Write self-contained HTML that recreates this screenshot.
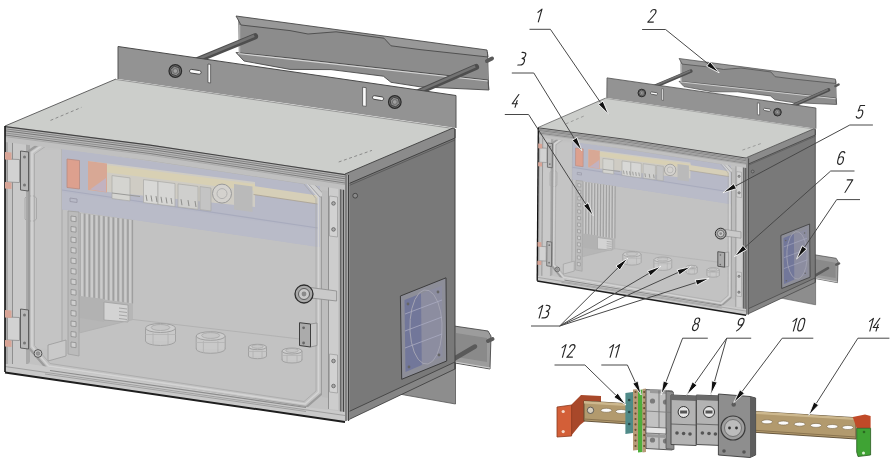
<!DOCTYPE html>
<html><head><meta charset="utf-8">
<style>
html,body{margin:0;padding:0;background:#fff;}
body{width:896px;height:461px;overflow:hidden;}
svg{display:block;filter:blur(0.3px);}
</style></head><body>
<svg width="896" height="461" viewBox="0 0 896 461">
<g id="bigbox">
<polygon points="238,18 487,51 488,86 239,54" fill="#8c8c8c"/>
<polygon points="236,16 487,50 488,57 420,49.6 391,45.8 384,38.2 336,31.8 308,34 290,30.6 241,25" fill="#989898" stroke="#4a4a4a" stroke-width="0.9"/>
<polygon points="236,52.5 290,58 420,72.4 488,80 489,90 420,86.8 391,82.3 383.4,76.2 331,69.6 290,69.4 244,61" fill="#8e8e8e" stroke="#4a4a4a" stroke-width="0.9"/>
<line x1="238" y1="53.5" x2="488" y2="81" stroke="#d6d6d6" stroke-width="1.1"/>
<line x1="239.5" y1="25" x2="239.5" y2="54" stroke="#b0b0b0" stroke-width="1.6"/>
<line x1="487.5" y1="52" x2="488.5" y2="89" stroke="#555" stroke-width="1"/>
<line x1="195" y1="61" x2="255" y2="36.3" stroke="#4e4e4e" stroke-width="6.2" stroke-linecap="round"/>
<line x1="195" y1="60.4" x2="254.2" y2="35.7" stroke="#737373" stroke-width="2.6"/>
<line x1="414" y1="94" x2="476" y2="67" stroke="#4e4e4e" stroke-width="6.2" stroke-linecap="round"/>
<line x1="414" y1="93.4" x2="475.2" y2="66.4" stroke="#737373" stroke-width="2.6"/>
<line x1="487" y1="61" x2="492" y2="58.5" stroke="#5a5a5a" stroke-width="4" stroke-linecap="round"/>
<polygon points="118,46.5 456,95.5 456,128 118,79" fill="#939393"/>
<line x1="118" y1="46.5" x2="456" y2="95.5" stroke="#4a4a4a" stroke-width="1"/>
<line x1="118" y1="46.5" x2="118" y2="79" stroke="#555" stroke-width="1"/>
<line x1="456" y1="95.5" x2="456" y2="128" stroke="#555" stroke-width="1"/>
<circle cx="175.3" cy="71" r="6.3" fill="#6e6e6e" stroke="#2a2a2a" stroke-width="1.2"/>
<polygon points="180,72.5 176.4,75.8 171.7,74.3 170.6,69.5 174.2,66.2 178.9,67.7" fill="#8c8c8c" stroke="#333" stroke-width="0.8"/>
<circle cx="175.3" cy="71" r="2.4" fill="#9e9e9e" stroke="#555" stroke-width="0.6"/>
<circle cx="394.8" cy="102" r="6.3" fill="#6e6e6e" stroke="#2a2a2a" stroke-width="1.2"/>
<polygon points="399.5,103.5 395.9,106.8 391.2,105.3 390.1,100.5 393.7,97.2 398.4,98.7" fill="#8c8c8c" stroke="#333" stroke-width="0.8"/>
<circle cx="394.8" cy="102" r="2.4" fill="#9e9e9e" stroke="#555" stroke-width="0.6"/>
<polygon points="199.6,70.6 200.2,70.9 200.7,71.3 201,72 201.1,72.7 200.8,73.3 200.4,73.8 199.7,74.1 199,74.2 191,73 190.4,72.7 189.9,72.3 189.6,71.6 189.5,70.9 189.8,70.3 190.2,69.8 190.9,69.5 191.6,69.4" fill="#fafafa" stroke="#3a3a3a" stroke-width="0.9"/>
<polygon points="382.1,96.9 382.7,97.2 383.3,97.6 383.6,98.3 383.6,99 383.3,99.6 382.9,100.2 382.2,100.5 381.5,100.5 374,99.3 373.4,99 372.8,98.6 372.5,97.9 372.5,97.2 372.8,96.6 373.2,96 373.9,95.7 374.6,95.7" fill="#fafafa" stroke="#3a3a3a" stroke-width="0.9"/>
<polygon points="208,64 210.6,64.4 210.6,83 208,82.6" fill="#fafafa" stroke="#444" stroke-width="0.7"/>
<polygon points="362.6,87.2 366.2,87.7 366.2,106.4 362.6,105.9" fill="#fafafa" stroke="#444" stroke-width="0.7"/>
<polygon points="380,390 455.5,360 455.5,404 404.6,395" fill="#8d8d8d" stroke="#555" stroke-width="0.8"/>
<polygon points="454,326 488,331 491,336 490,369 455,363" fill="#9c9c9c" stroke="#4a4a4a" stroke-width="0.9"/>
<polygon points="456,333 487,338 487,362 456,357" fill="#8a8a8a"/>
<line x1="455" y1="362" x2="490" y2="368" stroke="#d0d0d0" stroke-width="1"/>
<line x1="452" y1="360" x2="475" y2="346.5" stroke="#5a5a5a" stroke-width="4.5" stroke-linecap="round"/>
<line x1="488" y1="341" x2="492.5" y2="339" stroke="#5a5a5a" stroke-width="4" stroke-linecap="round"/>
<polygon points="116,79 453,128 345,174 150,144.5 5,126" fill="#cccecb"/>
<line x1="116" y1="79.5" x2="453" y2="128.5" stroke="#8a8a8a" stroke-width="0.8"/>
<line x1="50.5" y1="120.4" x2="81.4" y2="107.4" stroke="#7a7a7a" stroke-width="0.8" stroke-dasharray="3,2.5"/>
<line x1="338.7" y1="162" x2="371.9" y2="150.4" stroke="#7a7a7a" stroke-width="0.8" stroke-dasharray="3,2.5"/>
<line x1="5" y1="126" x2="116" y2="79" stroke="#555" stroke-width="0.9"/>
<polygon points="345,176 455,130 455,369 345,421" fill="#797979"/>
<polygon points="345,174 453,128 455,129 455,138 348,184" fill="#8b8b8b" stroke="#3a3a3a" stroke-width="0.9"/>
<line x1="348" y1="186" x2="455" y2="140" stroke="#555" stroke-width="0.8"/>
<polygon points="348,412 455,362 455,369 348,420" fill="#858585" stroke="#3a3a3a" stroke-width="0.8"/>
<line x1="455" y1="129" x2="455" y2="369" stroke="#444" stroke-width="1"/>
<circle cx="355.2" cy="195.7" r="2.4" fill="#8a8a8a" stroke="#3a3a3a" stroke-width="0.8"/>
<polygon points="400.4,296 446,277.8 446.7,361 401.7,379.3" fill="#8d8e98" stroke="#3c3c3c" stroke-width="1"/>
<polygon points="404.5,300 442,285.5 442.5,356.5 405.5,372" fill="#8c8da0"/>
<polygon points="404.5,300 421,293.6 421.8,365 405.5,372" fill="#72779a"/>
<polygon points="442,323 441.8,334.6 440.1,345.5 437,354.6 432.8,361 428,364 423,363.4 418.2,359.3 414.2,352 411.4,342.2 410,331 410.2,319.4 411.9,308.5 415,299.4 419.2,293 424,290 429,290.6 433.8,294.7 437.8,302 440.6,311.8" fill="none" stroke="#a4a4b2" stroke-width="1"/>
<line x1="405" y1="314" x2="442" y2="300" stroke="#a9abc2" stroke-width="0.8"/>
<line x1="405" y1="331" x2="442" y2="317" stroke="#a9abc2" stroke-width="0.8"/>
<line x1="405" y1="348" x2="442" y2="334" stroke="#a9abc2" stroke-width="0.8"/>
<circle cx="408" cy="304" r="1.4" fill="#666"/>
<circle cx="438" cy="292" r="1.4" fill="#666"/>
<circle cx="409" cy="367" r="1.4" fill="#666"/>
<circle cx="439" cy="355" r="1.4" fill="#666"/>
<polygon points="5,126 150,144.5 345,174 345,422 5,372" fill="#c2c2c2"/>
<polygon points="5,127 12,128 12,371 5,372" fill="#c4c4c4"/>
<polygon points="5,127 8,127.5 8,371.5 5,372" fill="#a9a9a9"/>
<polygon points="13,130 26,132 26,366 13,370" fill="#c9c9c9"/>
<polygon points="26,132 30,133 30,362 26,366" fill="#a9a9a9"/>
<line x1="12.5" y1="129" x2="12.5" y2="370" stroke="#8f8f8f" stroke-width="1"/>
<polygon points="31,150 62,150 62,350 31,348" fill="#c4c4c4"/>
<line x1="62" y1="148" x2="62" y2="350" stroke="#a8a8a8" stroke-width="1"/>
<polygon points="25,198 27,196 34,196 36.5,198 36.5,219 34,221 27,221 25,219" fill="none" stroke="#a9a9a9" stroke-width="1"/>
<polygon points="62,148.5 320,186 320,247 62,209.5" fill="#b7b9c7"/>
<line x1="62" y1="190" x2="318" y2="228" stroke="#a8abbd" stroke-width="1.2"/>
<polygon points="62,192 318,230 318,247 62,209" fill="#b9bbc8"/>
<polygon points="88,161 255,182 255,207 88,190" fill="#cfccc4"/>
<polygon points="88,161 107,163.4 107,192.5 88,190" fill="#d8a895"/>
<polygon points="90,189.5 106,178 106,192" fill="#c2b2c0"/>
<polygon points="107,165 255,184 255,191 107,172.5" fill="#d8d0b4"/>
<polygon points="67,159 79.5,160.5 79.5,189 67,187.5" fill="#dda08e" stroke="#b88a80" stroke-width="0.8"/>
<polygon points="112,175.6 130,177.9 130,200.9 112,198.6" fill="#d4d4d0" stroke="#a9a9a6" stroke-width="0.7"/>
<polygon points="143.5,179.6 158,181.4 158,204.4 143.5,202.6" fill="#d8d8d6" stroke="#a9a9a6" stroke-width="0.7"/>
<polygon points="158,181.4 175,183.5 175,206.5 158,204.4" fill="#d6d6d4" stroke="#a9a9a6" stroke-width="0.7"/>
<polygon points="178,183.9 198,186.4 198,209.4 178,206.9" fill="#cfcfcd" stroke="#a9a9a6" stroke-width="0.7"/>
<polygon points="200,186.6 211,188 211,211 200,209.6" fill="#c4c4c4" stroke="#a9a9a6" stroke-width="0.7"/>
<line x1="146" y1="194.9" x2="147" y2="200.9" stroke="#8e8e8c" stroke-width="1"/>
<line x1="151" y1="195.5" x2="152" y2="201.5" stroke="#8e8e8c" stroke-width="1"/>
<line x1="156" y1="196.1" x2="157" y2="202.1" stroke="#8e8e8c" stroke-width="1"/>
<line x1="161" y1="196.8" x2="162" y2="202.8" stroke="#8e8e8c" stroke-width="1"/>
<line x1="166" y1="197.4" x2="167" y2="203.4" stroke="#8e8e8c" stroke-width="1"/>
<line x1="171" y1="198" x2="172" y2="204" stroke="#8e8e8c" stroke-width="1"/>
<line x1="181" y1="199.2" x2="182" y2="205.2" stroke="#8e8e8c" stroke-width="1"/>
<line x1="188" y1="200.1" x2="189" y2="206.1" stroke="#8e8e8c" stroke-width="1"/>
<line x1="195" y1="201" x2="196" y2="207" stroke="#8e8e8c" stroke-width="1"/>
<line x1="112" y1="193" x2="140" y2="196.5" stroke="#9a9a98" stroke-width="1"/>
<circle cx="222" cy="193.6" r="9.5" fill="#d4d2ce" stroke="#9a9a9a" stroke-width="1"/>
<circle cx="222" cy="193.6" r="5" fill="none" stroke="#aaa" stroke-width="0.8"/>
<polygon points="234,184 252.5,186.5 252.5,212 234,209.5" fill="#bababa"/>
<polygon points="253.6,186 317.6,195.5 317.6,204 253.6,194.5" fill="#d6cfb8"/>
<line x1="253.6" y1="194.5" x2="317.6" y2="204" stroke="#a8a090" stroke-width="0.8"/>
<polygon points="79,290 104,293 133,297 133,319.5 79,333" fill="#b6b6b6"/>
<polygon points="68,211 79,212 79,356 68,354" fill="#bbbbbb" stroke="#a0a0a0" stroke-width="0.8"/>
<polygon points="71,216 76,216.7 76,221.7 71,221" fill="#cfcfcf" stroke="#8e8e8e" stroke-width="0.8"/>
<polygon points="71,226.5 76,227.2 76,232.2 71,231.5" fill="#cfcfcf" stroke="#8e8e8e" stroke-width="0.8"/>
<polygon points="71,237 76,237.7 76,242.7 71,242" fill="#cfcfcf" stroke="#8e8e8e" stroke-width="0.8"/>
<polygon points="71,247.5 76,248.2 76,253.2 71,252.5" fill="#cfcfcf" stroke="#8e8e8e" stroke-width="0.8"/>
<polygon points="71,258 76,258.7 76,263.7 71,263" fill="#cfcfcf" stroke="#8e8e8e" stroke-width="0.8"/>
<polygon points="71,268.5 76,269.2 76,274.2 71,273.5" fill="#cfcfcf" stroke="#8e8e8e" stroke-width="0.8"/>
<polygon points="71,279 76,279.7 76,284.7 71,284" fill="#cfcfcf" stroke="#8e8e8e" stroke-width="0.8"/>
<polygon points="71,289.5 76,290.2 76,295.2 71,294.5" fill="#cfcfcf" stroke="#8e8e8e" stroke-width="0.8"/>
<polygon points="71,300 76,300.7 76,305.7 71,305" fill="#cfcfcf" stroke="#8e8e8e" stroke-width="0.8"/>
<polygon points="71,310.5 76,311.2 76,316.2 71,315.5" fill="#cfcfcf" stroke="#8e8e8e" stroke-width="0.8"/>
<polygon points="71,321 76,321.7 76,326.7 71,326" fill="#cfcfcf" stroke="#8e8e8e" stroke-width="0.8"/>
<polygon points="71,331.5 76,332.2 76,337.2 71,336.5" fill="#cfcfcf" stroke="#8e8e8e" stroke-width="0.8"/>
<polygon points="71,342 76,342.7 76,347.7 71,347" fill="#cfcfcf" stroke="#8e8e8e" stroke-width="0.8"/>
<polygon points="80,213 133,220 133,303 80,296" fill="#adadad"/>
<polygon points="81,213.3 83.4,213.6 83.4,296.9 81,296.6" fill="#cbcbcb"/>
<line x1="84.6" y1="213.7" x2="84.6" y2="297.1" stroke="#999" stroke-width="0.8"/>
<polygon points="85.8,214 88.2,214.3 88.2,297.6 85.8,297.3" fill="#cbcbcb"/>
<line x1="89.4" y1="214.4" x2="89.4" y2="297.8" stroke="#999" stroke-width="0.8"/>
<polygon points="90.6,214.6 93,214.9 93,298.2 90.6,297.9" fill="#cbcbcb"/>
<line x1="94.2" y1="215" x2="94.2" y2="298.4" stroke="#999" stroke-width="0.8"/>
<polygon points="95.4,215.2 97.8,215.5 97.8,298.8 95.4,298.5" fill="#cbcbcb"/>
<line x1="99" y1="215.6" x2="99" y2="299" stroke="#999" stroke-width="0.8"/>
<polygon points="100.2,215.8 102.6,216.1 102.6,299.4 100.2,299.1" fill="#cbcbcb"/>
<line x1="103.8" y1="216.2" x2="103.8" y2="299.6" stroke="#999" stroke-width="0.8"/>
<polygon points="105,216.4 107.4,216.8 107.4,300.1 105,299.8" fill="#cbcbcb"/>
<line x1="108.6" y1="216.8" x2="108.6" y2="300.2" stroke="#999" stroke-width="0.8"/>
<polygon points="109.8,217.1 112.2,217.4 112.2,300.7 109.8,300.4" fill="#cbcbcb"/>
<line x1="113.4" y1="217.5" x2="113.4" y2="300.9" stroke="#999" stroke-width="0.8"/>
<polygon points="114.6,217.7 117,218 117,301.3 114.6,301" fill="#cbcbcb"/>
<line x1="118.2" y1="218.1" x2="118.2" y2="301.5" stroke="#999" stroke-width="0.8"/>
<polygon points="119.4,218.3 121.8,218.6 121.8,301.9 119.4,301.6" fill="#cbcbcb"/>
<line x1="123" y1="218.7" x2="123" y2="302.1" stroke="#999" stroke-width="0.8"/>
<polygon points="124.2,218.9 126.6,219.2 126.6,302.5 124.2,302.2" fill="#cbcbcb"/>
<line x1="127.8" y1="219.3" x2="127.8" y2="302.7" stroke="#999" stroke-width="0.8"/>
<polygon points="129,219.6 131.4,219.9 131.4,303.2 129,302.9" fill="#cbcbcb"/>
<line x1="132.6" y1="220" x2="132.6" y2="303.4" stroke="#999" stroke-width="0.8"/>
<polygon points="70,198 77,199 77,202.5 70,201.5" fill="none" stroke="#9a9aa8" stroke-width="0.9"/>
<polygon points="80,296 104,299 104,322 80,318" fill="#b2b2b2"/>
<polygon points="104,302 128,305 128,322 104,320" fill="#d3d3d3" stroke="#a0a0a0" stroke-width="0.8"/>
<line x1="119" y1="308" x2="127" y2="309" stroke="#9a9a9a" stroke-width="0.8"/>
<line x1="119" y1="311.5" x2="127" y2="312.5" stroke="#9a9a9a" stroke-width="0.8"/>
<line x1="119" y1="315" x2="127" y2="316" stroke="#9a9a9a" stroke-width="0.8"/>
<line x1="119" y1="318.5" x2="127" y2="319.5" stroke="#9a9a9a" stroke-width="0.8"/>
<polygon points="48,345 66,340 66,356 48,361" fill="#c9c9c9" stroke="#9a9a9a" stroke-width="0.8"/>
<polyline points="79,333 133,319.5 317,341" fill="none" stroke="#b0b0b0" stroke-width="0.9"/>
<polygon points="145.5,328 175.5,328 175.5,341 145.5,341" fill="#c7c7c7"/>
<ellipse cx="160.5" cy="341" rx="15" ry="4.5" fill="#c7c7c7" stroke="#a2a2a2" stroke-width="1"/>
<polygon points="146,328 175,328 175,341 146,341" fill="#c9c9c9"/>
<line x1="145.5" y1="328" x2="145.5" y2="341" stroke="#a2a2a2" stroke-width="1"/>
<line x1="175.5" y1="328" x2="175.5" y2="341" stroke="#a2a2a2" stroke-width="1"/>
<line x1="153" y1="333.2" x2="153" y2="345.2" stroke="#b0b0b0" stroke-width="0.8"/>
<line x1="168" y1="333.2" x2="168" y2="345.2" stroke="#b0b0b0" stroke-width="0.8"/>
<line x1="145.5" y1="334.5" x2="175.5" y2="334.5" stroke="#b4b4b4" stroke-width="0.8"/>
<ellipse cx="160.5" cy="328" rx="15" ry="4.5" fill="#cdcdcd" stroke="#a0a0a0" stroke-width="1"/>
<ellipse cx="160.5" cy="327.5" rx="9.3" ry="3" fill="#c6c6c6" stroke="#a6a6a6" stroke-width="0.8"/>
<polygon points="196.2,336 225.2,336 225.2,349 196.2,349" fill="#c7c7c7"/>
<ellipse cx="210.7" cy="349" rx="14.5" ry="4.3" fill="#c7c7c7" stroke="#a2a2a2" stroke-width="1"/>
<polygon points="196.7,336 224.7,336 224.7,349 196.7,349" fill="#c9c9c9"/>
<line x1="196.2" y1="336" x2="196.2" y2="349" stroke="#a2a2a2" stroke-width="1"/>
<line x1="225.2" y1="336" x2="225.2" y2="349" stroke="#a2a2a2" stroke-width="1"/>
<line x1="203.4" y1="341.1" x2="203.4" y2="353.1" stroke="#b0b0b0" stroke-width="0.8"/>
<line x1="217.9" y1="341.1" x2="217.9" y2="353.1" stroke="#b0b0b0" stroke-width="0.8"/>
<line x1="196.2" y1="342.5" x2="225.2" y2="342.5" stroke="#b4b4b4" stroke-width="0.8"/>
<ellipse cx="210.7" cy="336" rx="14.5" ry="4.3" fill="#cdcdcd" stroke="#a0a0a0" stroke-width="1"/>
<ellipse cx="210.7" cy="335.5" rx="9" ry="2.9" fill="#c6c6c6" stroke="#a6a6a6" stroke-width="0.8"/>
<polygon points="248.5,347 266.5,347 266.5,356 248.5,356" fill="#c7c7c7"/>
<ellipse cx="257.5" cy="356" rx="9" ry="2.7" fill="#c7c7c7" stroke="#a2a2a2" stroke-width="1"/>
<polygon points="249,347 266,347 266,356 249,356" fill="#c9c9c9"/>
<line x1="248.5" y1="347" x2="248.5" y2="356" stroke="#a2a2a2" stroke-width="1"/>
<line x1="266.5" y1="347" x2="266.5" y2="356" stroke="#a2a2a2" stroke-width="1"/>
<line x1="253" y1="350.5" x2="253" y2="358.5" stroke="#b0b0b0" stroke-width="0.8"/>
<line x1="262" y1="350.5" x2="262" y2="358.5" stroke="#b0b0b0" stroke-width="0.8"/>
<line x1="248.5" y1="351.5" x2="266.5" y2="351.5" stroke="#b4b4b4" stroke-width="0.8"/>
<ellipse cx="257.5" cy="347" rx="9" ry="2.7" fill="#cdcdcd" stroke="#a0a0a0" stroke-width="1"/>
<ellipse cx="257.5" cy="346.5" rx="5.6" ry="1.8" fill="#c6c6c6" stroke="#a6a6a6" stroke-width="0.8"/>
<polygon points="282,351 302,351 302,360 282,360" fill="#c7c7c7"/>
<ellipse cx="292" cy="360" rx="10" ry="3" fill="#c7c7c7" stroke="#a2a2a2" stroke-width="1"/>
<polygon points="282.5,351 301.5,351 301.5,360 282.5,360" fill="#c9c9c9"/>
<line x1="282" y1="351" x2="282" y2="360" stroke="#a2a2a2" stroke-width="1"/>
<line x1="302" y1="351" x2="302" y2="360" stroke="#a2a2a2" stroke-width="1"/>
<line x1="287" y1="354.8" x2="287" y2="362.8" stroke="#b0b0b0" stroke-width="0.8"/>
<line x1="297" y1="354.8" x2="297" y2="362.8" stroke="#b0b0b0" stroke-width="0.8"/>
<line x1="282" y1="355.5" x2="302" y2="355.5" stroke="#b4b4b4" stroke-width="0.8"/>
<ellipse cx="292" cy="351" rx="10" ry="3" fill="#cdcdcd" stroke="#a0a0a0" stroke-width="1"/>
<ellipse cx="292" cy="350.5" rx="6.2" ry="2" fill="#c6c6c6" stroke="#a6a6a6" stroke-width="0.8"/>
<polygon points="29,151 45.5,139.5 306.8,178 322,196 322,393.5 306.3,407 47,369 29,348" fill="none" stroke="#9c9c9c" stroke-width="2.2"/>
<polygon points="32,152.5 46.5,142.5 305,181 318.5,197.5 318.5,392 305,404 48.5,366 32,346.5" fill="none" stroke="#d4d4d4" stroke-width="1.6"/>
<polygon points="34.5,154 47.5,145 303.5,183.5 316,198.5 316,391 304,401.5 50,363.5 34.5,345.5" fill="none" stroke="#a8a8a8" stroke-width="0.8"/>
<polygon points="303,178 309,178.8 326,196.5 320,197" fill="#cfcfcf" stroke="#9a9a9a" stroke-width="0.8"/>
<polygon points="322,190 328.5,191 328.5,398 322,397" fill="#bdbdbd"/>
<polygon points="328.5,180 338,181.5 338,410 328.5,409" fill="#cdcdcd"/>
<line x1="328.5" y1="180" x2="328.5" y2="409" stroke="#8a8a8a" stroke-width="0.9"/>
<polygon points="329.5,196 337.5,197 337.5,237 329.5,236" fill="#d2d2d2" stroke="#9a9a9a" stroke-width="0.7"/>
<polygon points="329.5,354 337.5,355 337.5,393 329.5,392" fill="#d2d2d2" stroke="#9a9a9a" stroke-width="0.7"/>
<circle cx="333.5" cy="203.4" r="1.8" fill="#aaa" stroke="#555" stroke-width="0.7"/>
<circle cx="333.5" cy="229.4" r="1.8" fill="#aaa" stroke="#555" stroke-width="0.7"/>
<circle cx="333.5" cy="361" r="1.8" fill="#aaa" stroke="#555" stroke-width="0.7"/>
<circle cx="333.5" cy="386" r="1.8" fill="#aaa" stroke="#555" stroke-width="0.7"/>
<polygon points="339.5,174 349.5,175.5 349.5,420 339.5,422" fill="#a8a8a8"/>
<line x1="340.8" y1="175" x2="340.8" y2="421" stroke="#4a4a4a" stroke-width="1"/>
<line x1="343.4" y1="175" x2="343.4" y2="421" stroke="#3a3a3a" stroke-width="1"/>
<line x1="346" y1="175" x2="346" y2="421" stroke="#5a5a5a" stroke-width="1"/>
<line x1="348.6" y1="175" x2="348.6" y2="421" stroke="#333" stroke-width="1"/>
<polygon points="5,126 150,144.5 345,174 345,190 150,160.5 5,142" fill="#c0c0c0"/>
<polygon points="5,126 150,144.5 345,174 345,184 150,154.5 5,136" fill="#b8b8b8"/>
<polyline points="5,126.6 150,145.1 345,174.6" fill="none" stroke="#444" stroke-width="1.1"/>
<polyline points="5,128.8 150,147.3 345,176.8" fill="none" stroke="#7a7a7a" stroke-width="0.9"/>
<polyline points="5,130.8 150,149.3 345,178.8" fill="none" stroke="#6e6e6e" stroke-width="0.9"/>
<polyline points="5,133 150,151.5 345,181" fill="none" stroke="#868686" stroke-width="0.8"/>
<polyline points="5,135 150,153.5 345,183" fill="none" stroke="#777" stroke-width="0.9"/>
<polyline points="5,136.6 150,155.1 345,184.6" fill="none" stroke="#a0a0a0" stroke-width="0.7"/>
<polygon points="30,364 306,407 345,412 345,422 5,372.5 5,364" fill="#c9c9c9"/>
<line x1="50" y1="370.5" x2="306" y2="407.5" stroke="#8c8c8c" stroke-width="1.2"/>
<line x1="45" y1="374" x2="306" y2="411.5" stroke="#a0a0a0" stroke-width="1"/>
<line x1="5" y1="366.5" x2="345" y2="415.5" stroke="#9a9a9a" stroke-width="0.9"/>
<line x1="5" y1="372.5" x2="345" y2="422" stroke="#1e1e1e" stroke-width="2"/>
<line x1="5" y1="126" x2="5" y2="372" stroke="#111" stroke-width="1.6"/>
<polygon points="20.5,151 28.5,152 28.5,191 20.5,190" fill="#b8b8b8" stroke="#555" stroke-width="0.9"/>
<circle cx="24.5" cy="157" r="1.5" fill="#777"/>
<circle cx="24.5" cy="185" r="1.5" fill="#777"/>
<polygon points="7.5,159 19.5,159.5 19.5,182.5 7.5,182" fill="#d2d2d2" stroke="#8a8a8a" stroke-width="0.8"/>
<polygon points="5,152 11.5,152.5 11.5,160 5,159.5" fill="#d8a496"/>
<polygon points="5,182 11.5,182.5 11.5,189 5,188.5" fill="#d8a496"/>
<polygon points="20.5,309 28.5,310 28.5,349 20.5,348" fill="#b8b8b8" stroke="#555" stroke-width="0.9"/>
<circle cx="24.5" cy="315" r="1.5" fill="#777"/>
<circle cx="24.5" cy="343" r="1.5" fill="#777"/>
<polygon points="7.5,317 19.5,317.5 19.5,340.5 7.5,340" fill="#d2d2d2" stroke="#8a8a8a" stroke-width="0.8"/>
<polygon points="5,310 11.5,310.5 11.5,318 5,317.5" fill="#d8a496"/>
<polygon points="5,340 11.5,340.5 11.5,347 5,346.5" fill="#d8a496"/>
<circle cx="38" cy="353.5" r="3.9" fill="#c8c8c8" stroke="#555" stroke-width="1"/>
<circle cx="38" cy="353.5" r="1.8" fill="#999" stroke="#777" stroke-width="0.6"/>
<polygon points="311,287.6 336.6,291 336.6,301 311,298" fill="#c9c9c9" stroke="#8a8a8a" stroke-width="0.8"/>
<circle cx="304" cy="294" r="9" fill="#a9a9a9" stroke="#2e2e2e" stroke-width="1.3"/>
<circle cx="304" cy="294" r="5.5" fill="#c9c9c9" stroke="#555" stroke-width="0.9"/>
<circle cx="304" cy="294" r="2.4" fill="#8a8a8a"/>
<polygon points="310.5,324 317,323 317,345.5 310.5,347" fill="#c6c6c6" stroke="#8a8a8a" stroke-width="0.8"/>
<polygon points="299.5,322.7 310.5,324 310.5,347 299.5,345.5" fill="#ababab" stroke="#3e3e3e" stroke-width="1"/>
<circle cx="303.6" cy="327.8" r="1.4" fill="#666"/>
<circle cx="303.6" cy="343" r="1.4" fill="#666"/>
</g>
<g id="smallbox">
<polygon points="680.4,59.7 835.4,79.7 836,102 680.9,82.2" fill="#8c8c8c"/>
<polygon points="679.1,58.5 835.4,79.1 836,83.5 793.3,79 775.1,76.7 770.8,71.9 740.9,68 723.5,69.5 712.4,67.4 682.2,64.1" fill="#989898" stroke="#4a4a4a" stroke-width="0.7"/>
<polygon points="679,81.3 712.3,84.6 793.3,93.4 836,98.1 836.7,104.5 793.3,102.6 775.1,99.8 770.4,95.9 737.7,91.8 712.3,91.8 684,86.6" fill="#8e8e8e" stroke="#4a4a4a" stroke-width="0.7"/>
<line x1="680.3" y1="81.9" x2="836" y2="98.8" stroke="#d6d6d6" stroke-width="0.9"/>
<line x1="681.3" y1="64.1" x2="681.2" y2="82.2" stroke="#b0b0b0" stroke-width="1.3"/>
<line x1="835.7" y1="80.4" x2="836.4" y2="103.9" stroke="#555" stroke-width="0.8"/>
<line x1="653.9" y1="86.7" x2="690.8" y2="71.1" stroke="#4e4e4e" stroke-width="3.7" stroke-linecap="round"/>
<line x1="653.9" y1="86.3" x2="690.3" y2="70.7" stroke="#737373" stroke-width="1.6"/>
<line x1="789.5" y1="107.1" x2="828.5" y2="89.9" stroke="#4e4e4e" stroke-width="3.7" stroke-linecap="round"/>
<line x1="789.5" y1="106.7" x2="828" y2="89.5" stroke="#737373" stroke-width="1.6"/>
<line x1="835.4" y1="86.1" x2="838.6" y2="84.5" stroke="#5a5a5a" stroke-width="2.4" stroke-linecap="round"/>
<polygon points="607,77.9 815.9,108 815.9,128.7 606.8,98.1" fill="#939393"/>
<line x1="607" y1="77.9" x2="815.9" y2="108" stroke="#4a4a4a" stroke-width="0.8"/>
<line x1="607" y1="77.9" x2="606.8" y2="98.1" stroke="#555" stroke-width="0.8"/>
<line x1="815.9" y1="108" x2="815.9" y2="128.7" stroke="#555" stroke-width="0.8"/>
<circle cx="641.8" cy="93" r="3.8" fill="#6e6e6e" stroke="#2a2a2a" stroke-width="1"/>
<polygon points="644.7,93.9 642.4,96 639.6,95.1 638.9,92.1 641.1,90 644,90.9" fill="#8c8c8c" stroke="#333" stroke-width="0.6"/>
<circle cx="641.8" cy="93" r="1.4" fill="#9e9e9e" stroke="#555" stroke-width="0.5"/>
<circle cx="777.5" cy="112.2" r="3.8" fill="#6e6e6e" stroke="#2a2a2a" stroke-width="1"/>
<polygon points="780.4,113.1 778.2,115.2 775.2,114.3 774.5,111.3 776.8,109.2 779.7,110.1" fill="#8c8c8c" stroke="#333" stroke-width="0.6"/>
<circle cx="777.5" cy="112.2" r="1.4" fill="#9e9e9e" stroke="#555" stroke-width="0.5"/>
<polygon points="656.6,92.7 657,92.9 657.4,93.2 657.5,93.6 657.6,94 657.4,94.4 657.1,94.7 656.7,94.9 656.3,95 651.4,94.2 651,94.1 650.7,93.8 650.5,93.4 650.5,92.9 650.6,92.5 650.9,92.2 651.3,92 651.7,92" fill="#fafafa" stroke="#3a3a3a" stroke-width="0.7"/>
<polygon points="769.5,109 769.9,109.2 770.3,109.5 770.4,109.9 770.5,110.3 770.3,110.7 770,111 769.6,111.2 769.2,111.3 764.5,110.5 764.1,110.3 763.8,110 763.6,109.6 763.6,109.2 763.7,108.8 764,108.5 764.4,108.3 764.8,108.3" fill="#fafafa" stroke="#3a3a3a" stroke-width="0.7"/>
<polygon points="661.8,88.6 663.4,88.8 663.4,100.5 661.8,100.2" fill="#fafafa" stroke="#444" stroke-width="0.6"/>
<polygon points="757.4,102.9 759.6,103.2 759.6,115 757.4,114.7" fill="#fafafa" stroke="#444" stroke-width="0.6"/>
<polygon points="768,295.2 815.6,276.6 815.6,304.8 783.5,298.6" fill="#8d8d8d" stroke="#555" stroke-width="0.6"/>
<polygon points="814.7,254.8 836.2,258.3 838.1,261.5 837.5,282.7 815.3,278.5" fill="#9c9c9c" stroke="#4a4a4a" stroke-width="0.7"/>
<polygon points="815.9,259.3 835.6,262.8 835.6,278.1 815.9,274.7" fill="#8a8a8a"/>
<line x1="815.3" y1="277.9" x2="837.5" y2="282" stroke="#d0d0d0" stroke-width="0.8"/>
<line x1="813.4" y1="276.6" x2="828" y2="268.1" stroke="#5a5a5a" stroke-width="2.7" stroke-linecap="round"/>
<line x1="836.2" y1="264.7" x2="839.1" y2="263.4" stroke="#5a5a5a" stroke-width="2.4" stroke-linecap="round"/>
<polygon points="605.6,98.1 814,128.7 746.3,157.7 626.1,139 538.3,127.4" fill="#cccecb"/>
<line x1="605.6" y1="98.4" x2="814" y2="129" stroke="#8a8a8a" stroke-width="0.6"/>
<line x1="565.8" y1="123.9" x2="584.5" y2="115.8" stroke="#7a7a7a" stroke-width="0.6" stroke-dasharray="3,2.5"/>
<line x1="742.4" y1="150.1" x2="763.1" y2="142.8" stroke="#7a7a7a" stroke-width="0.6" stroke-dasharray="3,2.5"/>
<line x1="538.3" y1="127.4" x2="605.6" y2="98.1" stroke="#555" stroke-width="0.7"/>
<polygon points="746.3,159 815.3,129.9 815.3,282.4 746.1,314.6" fill="#797979"/>
<polygon points="746.3,157.7 814,128.7 815.3,129.3 815.3,135 748.2,164.1" fill="#8b8b8b" stroke="#3a3a3a" stroke-width="0.7"/>
<line x1="748.2" y1="165.3" x2="815.3" y2="136.3" stroke="#555" stroke-width="0.6"/>
<polygon points="748,308.9 815.3,277.9 815.3,282.4 748,314" fill="#858585" stroke="#3a3a3a" stroke-width="0.6"/>
<line x1="815.3" y1="129.3" x2="815.3" y2="282.4" stroke="#444" stroke-width="0.8"/>
<circle cx="752.7" cy="171.5" r="1.4" fill="#8a8a8a" stroke="#3a3a3a" stroke-width="0.6"/>
<polygon points="780.9,235.4 809.6,224 810.1,277.2 781.7,288.5" fill="#8d8e98" stroke="#3c3c3c" stroke-width="0.8"/>
<polygon points="783.5,237.9 807.1,228.9 807.4,274.3 784.1,283.9" fill="#8c8da0"/>
<polygon points="783.5,237.9 793.9,234 794.3,279.5 784.1,283.9" fill="#72779a"/>
<polygon points="807.1,252.8 807,260.3 805.9,267.2 803.9,273 801.3,277 798.3,279 795.1,278.5 792.1,275.9 789.6,271.2 787.8,264.9 786.9,257.7 787,250.3 788.1,243.4 790.1,237.6 792.7,233.6 795.7,231.7 798.9,232.1 801.9,234.7 804.4,239.4 806.2,245.7" fill="none" stroke="#a4a4b2" stroke-width="0.8"/>
<line x1="783.8" y1="246.9" x2="807.1" y2="238.2" stroke="#a9abc2" stroke-width="0.6"/>
<line x1="783.8" y1="257.7" x2="807.1" y2="249" stroke="#a9abc2" stroke-width="0.6"/>
<line x1="783.8" y1="268.6" x2="807.1" y2="259.9" stroke="#a9abc2" stroke-width="0.6"/>
<circle cx="785.7" cy="240.5" r="0.8" fill="#666"/>
<circle cx="804.6" cy="233" r="0.8" fill="#666"/>
<circle cx="786.3" cy="280.7" r="0.8" fill="#666"/>
<circle cx="805.2" cy="273.3" r="0.8" fill="#666"/>
<polygon points="538.3,127.4 626.1,139 746.3,157.7 746.1,315.3 537.2,280.7" fill="#c2c2c2"/>
<polygon points="538.3,128 542.5,128.7 541.5,280.1 537.2,280.7" fill="#c4c4c4"/>
<polygon points="538.3,128 540.1,128.3 539,280.4 537.2,280.7" fill="#a9a9a9"/>
<polygon points="543.1,129.9 551,131.1 549.9,277.1 542.1,279.5" fill="#c9c9c9"/>
<polygon points="551,131.1 553.4,131.8 552.4,274.6 549.9,277.1" fill="#a9a9a9"/>
<line x1="542.8" y1="129.3" x2="541.8" y2="279.5" stroke="#8f8f8f" stroke-width="0.8"/>
<polygon points="553.9,142.3 572.6,142.4 571.8,267.4 553,265.9" fill="#c4c4c4"/>
<line x1="572.6" y1="141.1" x2="571.8" y2="267.4" stroke="#a8a8a8" stroke-width="0.8"/>
<polygon points="550.1,172.2 551.3,171 555.5,171 557,172.2 556.9,185.3 555.4,186.5 551.2,186.5 550,185.3" fill="none" stroke="#a9a9a9" stroke-width="0.8"/>
<polygon points="572.6,141.4 730.8,165.3 730.7,203.9 572.4,179.5" fill="#b7b9c7"/>
<line x1="572.5" y1="167.3" x2="729.5" y2="191.8" stroke="#a8abbd" stroke-width="1"/>
<polygon points="572.5,168.5 729.5,193.1 729.4,203.9 572.4,179.1" fill="#b9bbc8"/>
<polygon points="588.3,149.2 690.5,162.6 690.4,178.4 588.2,167.3" fill="#cfccc4"/>
<polygon points="588.3,149.2 599.9,150.8 599.8,168.9 588.2,167.3" fill="#d8a895"/>
<polygon points="589.4,167 599.2,159.9 599.2,168.6" fill="#c2b2c0"/>
<polygon points="599.9,151.8 690.5,163.9 690.5,168.3 599.8,156.4" fill="#d8d0b4"/>
<polygon points="575.6,148 583.2,148.9 583.1,166.7 575.5,165.7" fill="#dda08e" stroke="#b88a80" stroke-width="0.6"/>
<polygon points="602.9,158.4 613.8,159.8 613.7,174.2 602.8,172.8" fill="#d4d4d0" stroke="#a9a9a6" stroke-width="0.6"/>
<polygon points="622,160.9 630.9,162.1 630.8,176.5 622,175.3" fill="#d8d8d6" stroke="#a9a9a6" stroke-width="0.6"/>
<polygon points="630.9,162.1 641.3,163.4 641.2,177.9 630.8,176.5" fill="#d6d6d4" stroke="#a9a9a6" stroke-width="0.6"/>
<polygon points="643.1,163.7 655.4,165.3 655.3,179.7 643.1,178.1" fill="#cfcfcd" stroke="#a9a9a6" stroke-width="0.6"/>
<polygon points="656.6,165.4 663.4,166.3 663.3,180.8 656.6,179.9" fill="#c4c4c4" stroke="#a9a9a6" stroke-width="0.6"/>
<line x1="623.5" y1="170.5" x2="624.1" y2="174.3" stroke="#8e8e8c" stroke-width="0.8"/>
<line x1="626.6" y1="170.9" x2="627.2" y2="174.7" stroke="#8e8e8c" stroke-width="0.8"/>
<line x1="629.6" y1="171.3" x2="630.2" y2="175.1" stroke="#8e8e8c" stroke-width="0.8"/>
<line x1="632.7" y1="171.7" x2="633.3" y2="175.5" stroke="#8e8e8c" stroke-width="0.8"/>
<line x1="635.7" y1="172.1" x2="636.3" y2="175.9" stroke="#8e8e8c" stroke-width="0.8"/>
<line x1="638.8" y1="172.5" x2="639.4" y2="176.3" stroke="#8e8e8c" stroke-width="0.8"/>
<line x1="644.9" y1="173.3" x2="645.5" y2="177.1" stroke="#8e8e8c" stroke-width="0.8"/>
<line x1="649.2" y1="173.9" x2="649.8" y2="177.7" stroke="#8e8e8c" stroke-width="0.8"/>
<line x1="653.5" y1="174.5" x2="654.1" y2="178.2" stroke="#8e8e8c" stroke-width="0.8"/>
<line x1="602.8" y1="169.3" x2="619.9" y2="171.5" stroke="#9a9a98" stroke-width="0.8"/>
<circle cx="670.1" cy="169.9" r="5.7" fill="#d4d2ce" stroke="#9a9a9a" stroke-width="0.8"/>
<circle cx="670.1" cy="169.9" r="3" fill="none" stroke="#aaa" stroke-width="0.6"/>
<polygon points="677.5,163.9 688.9,165.5 688.9,181.5 677.5,179.9" fill="#bababa"/>
<polygon points="689.6,165.1 729.2,171.3 729.2,176.6 689.6,170.5" fill="#d6cfb8"/>
<line x1="689.6" y1="170.5" x2="729.2" y2="176.6" stroke="#a8a090" stroke-width="0.6"/>
<polygon points="582.4,229.9 597.6,231.9 615.3,234.5 615.2,248.7 582.2,256.8" fill="#b6b6b6"/>
<polygon points="576,180.4 582.7,181.1 582.1,271.2 575.4,269.9" fill="#bbbbbb" stroke="#a0a0a0" stroke-width="0.6"/>
<polygon points="577.8,183.5 580.8,184 580.8,187.1 577.8,186.7" fill="#cfcfcf" stroke="#8e8e8e" stroke-width="0.6"/>
<polygon points="577.8,190.1 580.8,190.5 580.8,193.7 577.8,193.2" fill="#cfcfcf" stroke="#8e8e8e" stroke-width="0.6"/>
<polygon points="577.7,196.7 580.8,197.1 580.7,200.2 577.7,199.8" fill="#cfcfcf" stroke="#8e8e8e" stroke-width="0.6"/>
<polygon points="577.7,203.2 580.7,203.7 580.7,206.8 577.7,206.3" fill="#cfcfcf" stroke="#8e8e8e" stroke-width="0.6"/>
<polygon points="577.6,209.8 580.7,210.2 580.7,213.4 577.6,212.9" fill="#cfcfcf" stroke="#8e8e8e" stroke-width="0.6"/>
<polygon points="577.6,216.4 580.6,216.8 580.6,219.9 577.6,219.5" fill="#cfcfcf" stroke="#8e8e8e" stroke-width="0.6"/>
<polygon points="577.6,222.9 580.6,223.4 580.6,226.5 577.5,226.1" fill="#cfcfcf" stroke="#8e8e8e" stroke-width="0.6"/>
<polygon points="577.5,229.5 580.6,230 580.5,233.1 577.5,232.6" fill="#cfcfcf" stroke="#8e8e8e" stroke-width="0.6"/>
<polygon points="577.5,236.1 580.5,236.5 580.5,239.7 577.5,239.2" fill="#cfcfcf" stroke="#8e8e8e" stroke-width="0.6"/>
<polygon points="577.4,242.7 580.5,243.1 580.5,246.3 577.4,245.8" fill="#cfcfcf" stroke="#8e8e8e" stroke-width="0.6"/>
<polygon points="577.4,249.2 580.4,249.7 580.4,252.8 577.4,252.4" fill="#cfcfcf" stroke="#8e8e8e" stroke-width="0.6"/>
<polygon points="577.4,255.8 580.4,256.3 580.4,259.4 577.3,258.9" fill="#cfcfcf" stroke="#8e8e8e" stroke-width="0.6"/>
<polygon points="577.3,262.4 580.4,262.9 580.3,266 577.3,265.5" fill="#cfcfcf" stroke="#8e8e8e" stroke-width="0.6"/>
<polygon points="583.3,181.7 615.5,186.2 615.2,238.3 583,233.6" fill="#adadad"/>
<polygon points="583.9,181.9 585.3,182.1 585,234.2 583.6,234" fill="#cbcbcb"/>
<line x1="586.1" y1="182.2" x2="585.8" y2="234.3" stroke="#999" stroke-width="0.6"/>
<polygon points="586.8,182.3 588.3,182.5 587.9,234.6 586.5,234.4" fill="#cbcbcb"/>
<line x1="589" y1="182.6" x2="588.7" y2="234.8" stroke="#999" stroke-width="0.6"/>
<polygon points="589.7,182.7 591.2,182.9 590.9,235.1 589.4,234.8" fill="#cbcbcb"/>
<line x1="591.9" y1="183" x2="591.6" y2="235.2" stroke="#999" stroke-width="0.6"/>
<polygon points="592.6,183.1 594.1,183.3 593.8,235.5 592.3,235.3" fill="#cbcbcb"/>
<line x1="594.8" y1="183.4" x2="594.5" y2="235.6" stroke="#999" stroke-width="0.6"/>
<polygon points="595.5,183.5 597,183.7 596.7,235.9 595.2,235.7" fill="#cbcbcb"/>
<line x1="597.7" y1="183.8" x2="597.4" y2="236" stroke="#999" stroke-width="0.6"/>
<polygon points="598.5,183.9 599.9,184.1 599.6,236.3 598.2,236.1" fill="#cbcbcb"/>
<line x1="600.6" y1="184.2" x2="600.4" y2="236.4" stroke="#999" stroke-width="0.6"/>
<polygon points="601.4,184.3 602.8,184.5 602.5,236.7 601.1,236.5" fill="#cbcbcb"/>
<line x1="603.6" y1="184.6" x2="603.3" y2="236.9" stroke="#999" stroke-width="0.6"/>
<polygon points="604.3,184.7 605.8,184.9 605.5,237.1 604,236.9" fill="#cbcbcb"/>
<line x1="606.5" y1="185" x2="606.2" y2="237.3" stroke="#999" stroke-width="0.6"/>
<polygon points="607.2,185.1 608.7,185.3 608.4,237.6 606.9,237.4" fill="#cbcbcb"/>
<line x1="609.4" y1="185.4" x2="609.1" y2="237.7" stroke="#999" stroke-width="0.6"/>
<polygon points="610.1,185.5 611.6,185.7 611.3,238 609.9,237.8" fill="#cbcbcb"/>
<line x1="612.3" y1="185.8" x2="612.1" y2="238.1" stroke="#999" stroke-width="0.6"/>
<polygon points="613.1,185.9 614.5,186.1 614.3,238.4 612.8,238.2" fill="#cbcbcb"/>
<line x1="615.3" y1="186.2" x2="615" y2="238.5" stroke="#999" stroke-width="0.6"/>
<polygon points="577.3,172.3 581.5,172.9 581.5,175.1 577.3,174.5" fill="none" stroke="#9a9aa8" stroke-width="0.7"/>
<polygon points="583,233.6 597.6,235.6 597.5,250.1 582.9,247.4" fill="#b2b2b2"/>
<polygon points="597.5,237.5 612.2,239.5 612.1,250.2 597.5,248.8" fill="#d3d3d3" stroke="#a0a0a0" stroke-width="0.6"/>
<line x1="606.7" y1="241.4" x2="611.5" y2="242" stroke="#9a9a9a" stroke-width="0.6"/>
<line x1="606.7" y1="243.6" x2="611.5" y2="244.2" stroke="#9a9a9a" stroke-width="0.6"/>
<line x1="606.6" y1="245.8" x2="611.5" y2="246.4" stroke="#9a9a9a" stroke-width="0.6"/>
<line x1="606.6" y1="248" x2="611.5" y2="248.6" stroke="#9a9a9a" stroke-width="0.6"/>
<polygon points="563.3,264.1 574.3,261.1 574.2,271.1 563.3,274.1" fill="#c9c9c9" stroke="#9a9a9a" stroke-width="0.6"/>
<polyline points="582.2,256.8 615.2,248.7 728.7,263.5" fill="none" stroke="#b0b0b0" stroke-width="0.7"/>
<polygon points="622.8,254.1 641.2,254.3 641.2,262.5 622.8,262.3" fill="#c7c7c7"/>
<ellipse cx="631.9" cy="262.4" rx="9" ry="2.7" fill="#c7c7c7" stroke="#a2a2a2" stroke-width="0.8"/>
<polygon points="623.1,254.1 640.9,254.3 640.8,262.5 623.1,262.3" fill="#c9c9c9"/>
<line x1="622.8" y1="254.1" x2="622.8" y2="262.3" stroke="#a2a2a2" stroke-width="0.8"/>
<line x1="641.2" y1="254.3" x2="641.2" y2="262.5" stroke="#a2a2a2" stroke-width="0.8"/>
<line x1="627.4" y1="257.4" x2="627.3" y2="265" stroke="#b0b0b0" stroke-width="0.6"/>
<line x1="636.6" y1="257.5" x2="636.5" y2="265.1" stroke="#b0b0b0" stroke-width="0.6"/>
<line x1="622.8" y1="258.2" x2="641.2" y2="258.4" stroke="#b4b4b4" stroke-width="0.6"/>
<ellipse cx="632" cy="254.2" rx="9" ry="2.7" fill="#cdcdcd" stroke="#a0a0a0" stroke-width="0.8"/>
<ellipse cx="632" cy="253.9" rx="5.6" ry="1.8" fill="#c6c6c6" stroke="#a6a6a6" stroke-width="0.6"/>
<polygon points="653.9,259.5 671.8,259.7 671.7,267.9 653.9,267.7" fill="#c7c7c7"/>
<ellipse cx="662.8" cy="267.8" rx="8.7" ry="2.6" fill="#c7c7c7" stroke="#a2a2a2" stroke-width="0.8"/>
<polygon points="654.2,259.5 671.5,259.7 671.4,267.9 654.2,267.7" fill="#c9c9c9"/>
<line x1="653.9" y1="259.5" x2="653.9" y2="267.7" stroke="#a2a2a2" stroke-width="0.8"/>
<line x1="671.8" y1="259.7" x2="671.7" y2="267.9" stroke="#a2a2a2" stroke-width="0.8"/>
<line x1="658.3" y1="262.7" x2="658.3" y2="270.3" stroke="#b0b0b0" stroke-width="0.6"/>
<line x1="667.3" y1="262.8" x2="667.2" y2="270.4" stroke="#b0b0b0" stroke-width="0.6"/>
<line x1="653.9" y1="263.6" x2="671.7" y2="263.8" stroke="#b4b4b4" stroke-width="0.6"/>
<ellipse cx="662.8" cy="259.6" rx="8.7" ry="2.6" fill="#cdcdcd" stroke="#a0a0a0" stroke-width="0.8"/>
<ellipse cx="662.8" cy="259.3" rx="5.4" ry="1.7" fill="#c6c6c6" stroke="#a6a6a6" stroke-width="0.6"/>
<polygon points="686.1,266.8 697.3,266.9 697.3,272.6 686.1,272.5" fill="#c7c7c7"/>
<ellipse cx="691.7" cy="272.6" rx="5.4" ry="1.6" fill="#c7c7c7" stroke="#a2a2a2" stroke-width="0.8"/>
<polygon points="686.4,266.8 697,266.9 697,272.6 686.4,272.5" fill="#c9c9c9"/>
<line x1="686.1" y1="266.8" x2="686.1" y2="272.5" stroke="#a2a2a2" stroke-width="0.8"/>
<line x1="697.3" y1="266.9" x2="697.3" y2="272.6" stroke="#a2a2a2" stroke-width="0.8"/>
<line x1="688.9" y1="269.1" x2="688.9" y2="274.1" stroke="#b0b0b0" stroke-width="0.6"/>
<line x1="694.5" y1="269.1" x2="694.5" y2="274.2" stroke="#b0b0b0" stroke-width="0.6"/>
<line x1="686.1" y1="269.6" x2="697.3" y2="269.8" stroke="#b4b4b4" stroke-width="0.6"/>
<ellipse cx="691.7" cy="266.9" rx="5.4" ry="1.6" fill="#cdcdcd" stroke="#a0a0a0" stroke-width="0.8"/>
<ellipse cx="691.7" cy="266.5" rx="3.3" ry="1.1" fill="#c6c6c6" stroke="#a6a6a6" stroke-width="0.6"/>
<polygon points="706.9,269.6 719.3,269.7 719.3,275.4 706.9,275.3" fill="#c7c7c7"/>
<ellipse cx="713.1" cy="275.4" rx="6" ry="1.8" fill="#c7c7c7" stroke="#a2a2a2" stroke-width="0.8"/>
<polygon points="707.2,269.6 719,269.7 719,275.4 707.2,275.3" fill="#c9c9c9"/>
<line x1="706.9" y1="269.6" x2="706.9" y2="275.3" stroke="#a2a2a2" stroke-width="0.8"/>
<line x1="719.3" y1="269.7" x2="719.3" y2="275.4" stroke="#a2a2a2" stroke-width="0.8"/>
<line x1="710" y1="272" x2="710" y2="277.1" stroke="#b0b0b0" stroke-width="0.6"/>
<line x1="716.2" y1="272.1" x2="716.2" y2="277.2" stroke="#b0b0b0" stroke-width="0.6"/>
<line x1="706.9" y1="272.4" x2="719.3" y2="272.6" stroke="#b4b4b4" stroke-width="0.6"/>
<ellipse cx="713.1" cy="269.6" rx="6" ry="1.8" fill="#cdcdcd" stroke="#a0a0a0" stroke-width="0.8"/>
<ellipse cx="713.1" cy="269.3" rx="3.7" ry="1.2" fill="#c6c6c6" stroke="#a6a6a6" stroke-width="0.6"/>
<polygon points="552.7,143 562.7,135.8 722.6,160.2 732,171.6 731.7,296.9 721.9,305.4 562.6,279.2 551.8,265.9" fill="none" stroke="#9c9c9c" stroke-width="1.8"/>
<polygon points="554.5,143.9 563.3,137.7 721.4,162.1 729.8,172.5 729.6,295.9 721.1,303.4 563.6,277.3 553.7,264.9" fill="none" stroke="#d4d4d4" stroke-width="1.3"/>
<polygon points="556,144.8 563.9,139.2 720.5,163.7 728.2,173.2 728,295.3 720.5,301.8 564.5,275.7 555.2,264.3" fill="none" stroke="#a8a8a8" stroke-width="0.6"/>
<polygon points="720.2,160.2 723.9,160.7 734.5,171.9 730.7,172.2" fill="#cfcfcf" stroke="#9a9a9a" stroke-width="0.6"/>
<polygon points="732,167.8 736,168.5 735.8,299.8 731.7,299.1" fill="#bdbdbd"/>
<polygon points="736,161.5 742,162.5 741.7,307.6 735.8,306.8" fill="#cdcdcd"/>
<line x1="736" y1="161.5" x2="735.8" y2="306.8" stroke="#8a8a8a" stroke-width="0.7"/>
<polygon points="736.6,171.6 741.6,172.3 741.6,197.6 736.6,196.9" fill="#d2d2d2" stroke="#9a9a9a" stroke-width="0.6"/>
<polygon points="736.5,271.8 741.5,272.5 741.4,296.7 736.4,296" fill="#d2d2d2" stroke="#9a9a9a" stroke-width="0.6"/>
<circle cx="739.1" cy="176.3" r="1.1" fill="#aaa" stroke="#555" stroke-width="0.6"/>
<circle cx="739.1" cy="192.8" r="1.1" fill="#aaa" stroke="#555" stroke-width="0.6"/>
<circle cx="739" cy="276.3" r="1.1" fill="#aaa" stroke="#555" stroke-width="0.6"/>
<circle cx="738.9" cy="292.2" r="1.1" fill="#aaa" stroke="#555" stroke-width="0.6"/>
<polygon points="742.9,157.7 749.1,158.7 748.9,314 742.6,315.2" fill="#a8a8a8"/>
<line x1="743.7" y1="158.4" x2="743.4" y2="314.6" stroke="#4a4a4a" stroke-width="0.8"/>
<line x1="745.3" y1="158.4" x2="745.1" y2="314.6" stroke="#3a3a3a" stroke-width="0.8"/>
<line x1="746.9" y1="158.4" x2="746.7" y2="314.6" stroke="#5a5a5a" stroke-width="0.8"/>
<line x1="748.6" y1="158.4" x2="748.3" y2="314.7" stroke="#333" stroke-width="0.8"/>
<polygon points="538.3,127.4 626.1,139 746.3,157.7 746.3,167.9 626.1,149 538.3,137.3" fill="#c0c0c0"/>
<polygon points="538.3,127.4 626.1,139 746.3,157.7 746.3,164.1 626.1,145.2 538.3,133.6" fill="#b8b8b8"/>
<polyline points="538.3,127.8 626.1,139.4 746.3,158.1" fill="none" stroke="#444" stroke-width="0.9"/>
<polyline points="538.3,129.2 626.1,140.7 746.3,159.5" fill="none" stroke="#7a7a7a" stroke-width="0.7"/>
<polyline points="538.3,130.4 626.1,142 746.3,160.8" fill="none" stroke="#6e6e6e" stroke-width="0.7"/>
<polyline points="538.3,131.8 626.1,143.4 746.3,162.2" fill="none" stroke="#868686" stroke-width="0.6"/>
<polyline points="538.3,133 626.1,144.6 746.3,163.4" fill="none" stroke="#777" stroke-width="0.7"/>
<polyline points="538.3,134 626.1,145.6 746.3,164.4" fill="none" stroke="#a0a0a0" stroke-width="0.6"/>
<polygon points="552.4,275.9 721.7,305.3 746.1,308.9 746.1,315.3 537.2,281 537.3,275.7" fill="#c9c9c9"/>
<line x1="564.5" y1="280.1" x2="721.7" y2="305.7" stroke="#8c8c8c" stroke-width="1"/>
<line x1="561.4" y1="282.3" x2="721.7" y2="308.2" stroke="#a0a0a0" stroke-width="0.8"/>
<line x1="537.2" y1="277.3" x2="746.1" y2="311.1" stroke="#9a9a9a" stroke-width="0.7"/>
<line x1="537.2" y1="281" x2="746.1" y2="315.3" stroke="#1e1e1e" stroke-width="1.6"/>
<line x1="538.3" y1="127.4" x2="537.2" y2="280.7" stroke="#111" stroke-width="1.3"/>
<polygon points="547.6,142.9 552.4,143.6 552.2,167.8 547.4,167.2" fill="#b8b8b8" stroke="#555" stroke-width="0.7"/>
<circle cx="549.9" cy="146.7" r="0.9" fill="#777"/>
<circle cx="549.8" cy="164.1" r="0.9" fill="#777"/>
<polygon points="539.7,147.9 546.9,148.2 546.8,162.5 539.6,162.2" fill="#d2d2d2" stroke="#8a8a8a" stroke-width="0.6"/>
<polygon points="538.2,143.6 542.1,143.9 542.1,148.5 538.2,148.2" fill="#d8a496"/>
<polygon points="538.1,162.2 542,162.5 542,166.6 538.1,166.2" fill="#d8a496"/>
<polygon points="546.9,241.4 551.7,242.1 551.5,266.5 546.7,265.8" fill="#b8b8b8" stroke="#555" stroke-width="0.7"/>
<circle cx="549.3" cy="245.2" r="0.9" fill="#777"/>
<circle cx="549.1" cy="262.7" r="0.9" fill="#777"/>
<polygon points="539,246.3 546.2,246.7 546.1,261.1 538.9,260.7" fill="#d2d2d2" stroke="#8a8a8a" stroke-width="0.6"/>
<polygon points="537.5,242 541.4,242.3 541.4,247 537.5,246.6" fill="#d8a496"/>
<polygon points="537.4,260.7 541.3,261.1 541.3,265.1 537.3,264.8" fill="#d8a496"/>
<circle cx="557.3" cy="269.4" r="2.3" fill="#c8c8c8" stroke="#555" stroke-width="0.8"/>
<circle cx="557.3" cy="269.4" r="1.1" fill="#999" stroke="#777" stroke-width="0.5"/>
<polygon points="725,229.5 741,231.8 741,238.2 725,236.1" fill="#c9c9c9" stroke="#8a8a8a" stroke-width="0.6"/>
<circle cx="720.7" cy="233.6" r="5.4" fill="#a9a9a9" stroke="#2e2e2e" stroke-width="1"/>
<circle cx="720.7" cy="233.6" r="3.3" fill="#c9c9c9" stroke="#555" stroke-width="0.7"/>
<circle cx="720.7" cy="233.6" r="1.4" fill="#8a8a8a"/>
<polygon points="724.7,252.6 728.7,252 728.7,266.3 724.6,267.2" fill="#c6c6c6" stroke="#8a8a8a" stroke-width="0.6"/>
<polygon points="717.8,251.7 724.7,252.6 724.6,267.2 717.8,266.2" fill="#ababab" stroke="#3e3e3e" stroke-width="0.8"/>
<circle cx="720.4" cy="255" r="0.8" fill="#666"/>
<circle cx="720.3" cy="264.6" r="0.8" fill="#666"/>
</g>
<g id="din">
<polygon points="571,405 581,395 601,396 601,402 585,401 585,421 580,425 571,436" fill="#a8482a"/>
<polygon points="557,407 571.6,405 571.6,436 557,437" fill="#d35f38" stroke="#8a3a20" stroke-width="0.8"/>
<circle cx="563.2" cy="411.5" r="1.6" fill="#f4d8c8"/><circle cx="563.2" cy="431.6" r="1.6" fill="#f4d8c8"/>
<polygon points="584,401 856,417.7 856,439 584,421" fill="#b29a6e" stroke="#5a4a30" stroke-width="0.9"/>
<polygon points="584,401 856,417.7 856,420 584,403.5" fill="#cdb88e"/>
<line x1="584" y1="419" x2="856" y2="437" stroke="#8a7450" stroke-width="1"/>
<circle cx="590.5" cy="410.3" r="3.2" fill="#d8d0c0" stroke="#444" stroke-width="0.8"/>
<ellipse cx="606.3" cy="410.3" rx="5.6" ry="2" fill="#fbfbfb" stroke="#7a6848" stroke-width="0.6"/>
<ellipse cx="621.2" cy="411.5" rx="5.6" ry="2" fill="#fbfbfb" stroke="#7a6848" stroke-width="0.6"/>
<ellipse cx="767" cy="421.8" rx="5.6" ry="2" fill="#fbfbfb" stroke="#7a6848" stroke-width="0.6"/>
<ellipse cx="783.4" cy="423" rx="5.6" ry="2" fill="#fbfbfb" stroke="#7a6848" stroke-width="0.6"/>
<ellipse cx="799.7" cy="424.2" rx="5.6" ry="2" fill="#fbfbfb" stroke="#7a6848" stroke-width="0.6"/>
<ellipse cx="816" cy="425.4" rx="5.6" ry="2" fill="#fbfbfb" stroke="#7a6848" stroke-width="0.6"/>
<ellipse cx="832.3" cy="426.5" rx="5.6" ry="2" fill="#fbfbfb" stroke="#7a6848" stroke-width="0.6"/>
<ellipse cx="847.8" cy="427.5" rx="5.6" ry="2" fill="#fbfbfb" stroke="#7a6848" stroke-width="0.6"/>
<polygon points="852.7,417 865,414.4 870.6,416 870.6,428.3 856.7,428.3" fill="#c04a28"/>
<polygon points="856.7,428.3 870.6,428.3 870.6,455 858,456.5 856.7,452" fill="#3fa334" stroke="#2a5a20" stroke-width="0.8"/>
<circle cx="863.5" cy="453" r="1.5" fill="#d8f0d0"/><circle cx="864" cy="432" r="1.3" fill="#2a6a20"/>
<polygon points="625.4,393 633,392 633,433 625.4,434" fill="#4f8a88"/>
<polygon points="633,389.5 638,389 638,450 633,450.5" fill="#b89a78"/>
<polygon points="638,390 642.5,389.5 642.5,452 638,452.5" fill="#4fae3c"/>
<polygon points="642.5,389 646,388.5 646,452 642.5,452.5" fill="#b89a78"/>
<circle cx="635.5" cy="392" r="1.1" fill="#6a5030"/><circle cx="644.2" cy="392" r="1.1" fill="#6a5030"/>
<circle cx="635.5" cy="397.4" r="1.1" fill="#6a5030"/><circle cx="644.2" cy="397.4" r="1.1" fill="#6a5030"/>
<circle cx="635.5" cy="402.8" r="1.1" fill="#6a5030"/><circle cx="644.2" cy="402.8" r="1.1" fill="#6a5030"/>
<circle cx="635.5" cy="408.2" r="1.1" fill="#6a5030"/><circle cx="644.2" cy="408.2" r="1.1" fill="#6a5030"/>
<circle cx="635.5" cy="413.6" r="1.1" fill="#6a5030"/><circle cx="644.2" cy="413.6" r="1.1" fill="#6a5030"/>
<circle cx="635.5" cy="419" r="1.1" fill="#6a5030"/><circle cx="644.2" cy="419" r="1.1" fill="#6a5030"/>
<circle cx="635.5" cy="424.4" r="1.1" fill="#6a5030"/><circle cx="644.2" cy="424.4" r="1.1" fill="#6a5030"/>
<circle cx="635.5" cy="429.8" r="1.1" fill="#6a5030"/><circle cx="644.2" cy="429.8" r="1.1" fill="#6a5030"/>
<circle cx="635.5" cy="435.2" r="1.1" fill="#6a5030"/><circle cx="644.2" cy="435.2" r="1.1" fill="#6a5030"/>
<circle cx="635.5" cy="440.6" r="1.1" fill="#6a5030"/><circle cx="644.2" cy="440.6" r="1.1" fill="#6a5030"/>
<circle cx="635.5" cy="446" r="1.1" fill="#6a5030"/><circle cx="644.2" cy="446" r="1.1" fill="#6a5030"/>
<circle cx="629.2" cy="400" r="1.3" fill="#2a4a48"/><circle cx="629.2" cy="412" r="1.3" fill="#2a4a48"/><circle cx="629.2" cy="424" r="1.3" fill="#2a4a48"/>
<polygon points="646,389.6 672.3,391 672.3,450 646,448.5" fill="#c2c2c2" stroke="#4a4a4a" stroke-width="0.9"/>
<polygon points="650,389 668,390 668,394 650,393" fill="#9a9a9a"/>
<line x1="659" y1="390.5" x2="659" y2="449" stroke="#6a6a6a" stroke-width="0.8"/>
<circle cx="652.5" cy="401" r="2.6" fill="#7a7a7a"/><circle cx="665.5" cy="402" r="2.6" fill="#7a7a7a"/>
<circle cx="652.5" cy="440" r="2.6" fill="#7a7a7a"/><circle cx="665.5" cy="441" r="2.6" fill="#7a7a7a"/>
<polygon points="666,391 673.4,392 674,449.5 666,448.5" fill="#8e8e8e" stroke="#4a4a4a" stroke-width="0.7"/>
<polygon points="646,427 666,428 666,434 646,433" fill="#e6e6e6" stroke="#555" stroke-width="0.7"/>
<polygon points="646,434 666,435 666,438 646,437" fill="#9a9a9a"/>
<line x1="646" y1="411" x2="672" y2="412.5" stroke="#7a7a7a" stroke-width="0.8"/>
<polygon points="671,395 696.2,396 696.2,445.5 671,444.5" fill="#b3b3b3" stroke="#3e3e3e" stroke-width="0.9"/>
<polygon points="671,395 696.2,396 696.2,401 671,400" fill="#6a6a6a"/>
<circle cx="683.6" cy="412" r="5.5" fill="#e6e6e6" stroke="#333" stroke-width="1"/>
<rect x="680.1" y="410.5" width="7" height="3" fill="#555"/>
<circle cx="677" cy="433" r="1.8" fill="#555"/><circle cx="683.6" cy="433.5" r="1.8" fill="#555"/><circle cx="690" cy="434" r="1.8" fill="#555"/>
<line x1="671" y1="424" x2="696.2" y2="425" stroke="#555" stroke-width="0.8"/>
<polygon points="696.4,395 721.6,396 721.6,445.5 696.4,444.5" fill="#b3b3b3" stroke="#3e3e3e" stroke-width="0.9"/>
<polygon points="696.4,395 721.6,396 721.6,401 696.4,400" fill="#6a6a6a"/>
<circle cx="709" cy="412" r="5.5" fill="#e6e6e6" stroke="#333" stroke-width="1"/>
<rect x="705.5" y="410.5" width="7" height="3" fill="#555"/>
<circle cx="702.4" cy="433" r="1.8" fill="#555"/><circle cx="709" cy="433.5" r="1.8" fill="#555"/><circle cx="715.4" cy="434" r="1.8" fill="#555"/>
<line x1="696.4" y1="424" x2="721.6" y2="425" stroke="#555" stroke-width="0.8"/>
<polygon points="718.4,394 750,396.5 755.6,398 755.6,455 750,457.5 718.4,455" fill="#8e8e8e" stroke="#3a3a3a" stroke-width="0.9"/>
<polygon points="750,396.5 755.6,398 755.6,455 750,457.5" fill="#5e5e5e"/>
<circle cx="733.7" cy="404.5" r="2.2" fill="#5a5a5a"/>
<circle cx="733" cy="428" r="12" fill="#9e9e9e" stroke="#3a3a3a" stroke-width="1.2"/>
<circle cx="733" cy="428" r="8.5" fill="#bcbcbc" stroke="#666" stroke-width="0.8"/>
<circle cx="729.5" cy="428" r="1.4" fill="#333"/><circle cx="736.5" cy="428" r="1.4" fill="#333"/>
<circle cx="724" cy="451" r="1.8" fill="#555"/><circle cx="744" cy="452" r="1.8" fill="#555"/>
</g>
<polyline points="529.5,29.3 550.4,29.3 608.6,114.3" fill="none" stroke="#484848" stroke-width="1"/><polygon points="608.6,114.3 598.4,104.3 603,101.2" fill="#111" stroke="#fff" stroke-width="0.9" stroke-linejoin="round"/>
<polyline points="642.1,29.5 665.6,29.5 719.2,72.8" fill="none" stroke="#484848" stroke-width="1"/><polygon points="719.2,72.8 706.6,66.2 710.1,61.8" fill="#111" stroke="#fff" stroke-width="0.9" stroke-linejoin="round"/>
<polyline points="511.8,73 533.8,73 581.9,150.8" fill="none" stroke="#484848" stroke-width="1"/><polygon points="581.9,150.8 572.2,140.4 576.9,137.4" fill="#111" stroke="#fff" stroke-width="0.9" stroke-linejoin="round"/>
<polyline points="504.8,114.5 528.6,114.5 593.4,216" fill="none" stroke="#484848" stroke-width="1"/><polygon points="593.4,216 583.5,205.7 588.2,202.7" fill="#111" stroke="#fff" stroke-width="0.9" stroke-linejoin="round"/>
<polyline points="872.9,125 849.8,125 722.8,192.8" fill="none" stroke="#484848" stroke-width="1"/><polygon points="722.8,192.8 733.8,183.7 736.5,188.7" fill="#111" stroke="#fff" stroke-width="0.9" stroke-linejoin="round"/>
<polyline points="854.5,171 830.7,171 734.3,256.8" fill="none" stroke="#484848" stroke-width="1"/><polygon points="734.3,256.8 742.9,245.4 746.6,249.6" fill="#111" stroke="#fff" stroke-width="0.9" stroke-linejoin="round"/>
<polyline points="860,199.6 836.7,199.6 796.6,259" fill="none" stroke="#484848" stroke-width="1"/><polygon points="796.6,259 802.1,245.8 806.8,249" fill="#111" stroke="#fff" stroke-width="0.9" stroke-linejoin="round"/>
<polyline points="531,326 559.7,326 627.8,258" fill="none" stroke="#484848" stroke-width="1"/><polygon points="627.8,258 619.9,269.9 615.9,265.9" fill="#111" stroke="#fff" stroke-width="0.9" stroke-linejoin="round"/>
<polyline points="559.7,326 661,266.2" fill="none" stroke="#484848" stroke-width="1"/><polygon points="661,266.2 650.4,275.8 647.5,271" fill="#111" stroke="#fff" stroke-width="0.9" stroke-linejoin="round"/>
<polyline points="559.7,326 691,266.6" fill="none" stroke="#484848" stroke-width="1"/><polygon points="691,266.6 679.4,274.9 677.1,269.8" fill="#111" stroke="#fff" stroke-width="0.9" stroke-linejoin="round"/>
<polyline points="559.7,326 709.4,278.3" fill="none" stroke="#484848" stroke-width="1"/><polygon points="709.4,278.3 696.9,285.2 695.2,279.9" fill="#111" stroke="#fff" stroke-width="0.9" stroke-linejoin="round"/>
<polyline points="707.8,338.2 682.6,338.2 661,395" fill="none" stroke="#484848" stroke-width="1"/><polygon points="661,395 663.4,380.9 668.6,382.9" fill="#111" stroke="#fff" stroke-width="0.9" stroke-linejoin="round"/>
<polyline points="751.2,338.2 726.7,338.2 686.6,395" fill="none" stroke="#484848" stroke-width="1"/><polygon points="686.6,395 692.4,381.9 697,385.2" fill="#111" stroke="#fff" stroke-width="0.9" stroke-linejoin="round"/>
<polyline points="726.7,338.2 710.7,395" fill="none" stroke="#484848" stroke-width="1"/><polygon points="710.7,395 711.8,380.8 717.2,382.3" fill="#111" stroke="#fff" stroke-width="0.9" stroke-linejoin="round"/>
<polyline points="813.3,338.2 782.2,338.2 733.7,402.7" fill="none" stroke="#484848" stroke-width="1"/><polygon points="733.7,402.7 739.9,389.8 744.4,393.2" fill="#111" stroke="#fff" stroke-width="0.9" stroke-linejoin="round"/>
<polyline points="889.4,338.2 857.9,338.2 808.7,415.3" fill="none" stroke="#484848" stroke-width="1"/><polygon points="808.7,415.3 813.9,402 818.6,405" fill="#111" stroke="#fff" stroke-width="0.9" stroke-linejoin="round"/>
<polyline points="554.5,365 584.9,365 625.9,405" fill="none" stroke="#484848" stroke-width="1"/><polygon points="625.9,405 613.9,397.2 617.8,393.2" fill="#111" stroke="#fff" stroke-width="0.9" stroke-linejoin="round"/>
<polyline points="601.3,365 627.4,365 641.2,395" fill="none" stroke="#484848" stroke-width="1"/><polygon points="641.2,395 632.8,383.5 637.9,381.1" fill="#111" stroke="#fff" stroke-width="0.9" stroke-linejoin="round"/>
<g transform="translate(535.3,21.8) scale(0.9) matrix(1,0,-0.27,1,0,0)" fill="none" stroke="#262626" stroke-width="1.3" stroke-linecap="round" stroke-linejoin="round"><path d="M0.2,-10.6 L3.6,-14 L3.4,0" transform="translate(0,0)"/></g>
<g transform="translate(647.8,22.1) scale(0.9) matrix(1,0,-0.27,1,0,0)" fill="none" stroke="#262626" stroke-width="1.3" stroke-linecap="round" stroke-linejoin="round"><path d="M0.2,-11.2 C0.5,-13.2 1.8,-14 3.2,-14 C5,-14 6,-12.8 6,-11 C6,-9 4.5,-7 0,0 L6.2,0" transform="translate(0,0)"/></g>
<g transform="translate(517.8,65) scale(0.9) matrix(1,0,-0.27,1,0,0)" fill="none" stroke="#262626" stroke-width="1.3" stroke-linecap="round" stroke-linejoin="round"><path d="M1,-14 C3,-14.2 5.8,-13.6 5.8,-11.2 C5.8,-9 4.4,-7.6 2.8,-7.4 C4.8,-7.3 6.2,-6 6.2,-4 C6.2,-1.4 4.2,0 2.4,0 L0,0" transform="translate(0,0)"/></g>
<g transform="translate(511.3,107.2) scale(0.9) matrix(1,0,-0.27,1,0,0)" fill="none" stroke="#262626" stroke-width="1.3" stroke-linecap="round" stroke-linejoin="round"><path d="M4.6,-14 L0,-3.8 L5.8,-3.8 M4.5,-7.4 L4.2,0" transform="translate(0,0)"/></g>
<g transform="translate(855.8,118.1) scale(0.9) matrix(1,0,-0.27,1,0,0)" fill="none" stroke="#262626" stroke-width="1.3" stroke-linecap="round" stroke-linejoin="round"><path d="M6,-14 L1.2,-14 L0.6,-7.8 C1.5,-8.6 2.4,-9 3.4,-9 C5.2,-9 6.2,-7.4 6.2,-4.6 C6.2,-1.6 4.8,0 3,0 C1.6,0 0.6,-0.6 0,-1.8" transform="translate(0,0)"/></g>
<g transform="translate(836.7,164.3) scale(0.9) matrix(1,0,-0.27,1,0,0)" fill="none" stroke="#262626" stroke-width="1.3" stroke-linecap="round" stroke-linejoin="round"><path d="M5.6,-12.8 C5,-13.6 4.2,-14 3.2,-14 C1.2,-14 0.1,-12 0.1,-8 L0.1,-4.5 C0.1,-1.6 1.2,0 3.1,0 C5,0 6.1,-1.6 6.1,-4.3 C6.1,-7 4.9,-8.4 3.1,-8.4 C1.6,-8.4 0.6,-7.6 0.1,-6.4" transform="translate(0,0)"/></g>
<g transform="translate(843.8,192.4) scale(0.9) matrix(1,0,-0.27,1,0,0)" fill="none" stroke="#262626" stroke-width="1.3" stroke-linecap="round" stroke-linejoin="round"><path d="M0,-14 L6.2,-14 L1.4,0" transform="translate(0,0)"/></g>
<g transform="translate(691.8,330.6) scale(0.9) matrix(1,0,-0.27,1,0,0)" fill="none" stroke="#262626" stroke-width="1.3" stroke-linecap="round" stroke-linejoin="round"><path d="M3,-7.6 C1.3,-7.6 0.4,-8.9 0.4,-10.8 C0.4,-12.8 1.5,-14 3,-14 C4.5,-14 5.6,-12.8 5.6,-10.8 C5.6,-8.9 4.7,-7.6 3,-7.6 C1.1,-7.6 0,-6.1 0,-3.9 C0,-1.4 1.3,0 3,0 C4.7,0 6,-1.4 6,-3.9 C6,-6.1 4.9,-7.6 3,-7.6 Z" transform="translate(0,0)"/></g>
<g transform="translate(736,330.9) scale(0.9) matrix(1,0,-0.27,1,0,0)" fill="none" stroke="#262626" stroke-width="1.3" stroke-linecap="round" stroke-linejoin="round"><path d="M6,-9.8 C6,-12.4 4.8,-14 3,-14 C1.2,-14 0,-12.6 0,-10.2 C0,-7.8 1.2,-6.4 3,-6.4 C4.6,-6.4 5.6,-7.6 6,-9.8 C5.6,-6 3.6,-2.4 0.6,0" transform="translate(0,0)"/></g>
<g transform="translate(790.3,330.9) scale(0.9) matrix(1,0,-0.27,1,0,0)" fill="none" stroke="#262626" stroke-width="1.3" stroke-linecap="round" stroke-linejoin="round"><path d="M0.2,-10.6 L3.6,-14 L3.4,0" transform="translate(0,0)"/><path d="M3,-14 C1,-14 0,-12 0,-9 L0,-5 C0,-2 1,0 3,0 C5,0 6,-2 6,-5 L6,-9 C6,-12 5,-14 3,-14 Z" transform="translate(7.3,0)"/></g>
<g transform="translate(866.8,330.9) scale(0.9) matrix(1,0,-0.27,1,0,0)" fill="none" stroke="#262626" stroke-width="1.3" stroke-linecap="round" stroke-linejoin="round"><path d="M0.2,-10.6 L3.6,-14 L3.4,0" transform="translate(0,0)"/><path d="M4.6,-14 L0,-3.8 L5.8,-3.8 M4.5,-7.4 L4.2,0" transform="translate(6.1,0)"/></g>
<g transform="translate(536.1,317.9) scale(0.9) matrix(1,0,-0.27,1,0,0)" fill="none" stroke="#262626" stroke-width="1.3" stroke-linecap="round" stroke-linejoin="round"><path d="M0.2,-10.6 L3.6,-14 L3.4,0" transform="translate(0,0)"/><path d="M1,-14 C3,-14.2 5.8,-13.6 5.8,-11.2 C5.8,-9 4.4,-7.6 2.8,-7.4 C4.8,-7.3 6.2,-6 6.2,-4 C6.2,-1.4 4.2,0 2.4,0 L0,0" transform="translate(6.5,0)"/></g>
<g transform="translate(559.4,357.2) scale(0.9) matrix(1,0,-0.27,1,0,0)" fill="none" stroke="#262626" stroke-width="1.3" stroke-linecap="round" stroke-linejoin="round"><path d="M0.2,-10.6 L3.6,-14 L3.4,0" transform="translate(0,0)"/><path d="M0.2,-11.2 C0.5,-13.2 1.8,-14 3.2,-14 C5,-14 6,-12.8 6,-11 C6,-9 4.5,-7 0,0 L6.2,0" transform="translate(8.2,0)"/></g>
<g transform="translate(607.1,357.2) scale(0.9) matrix(1,0,-0.27,1,0,0)" fill="none" stroke="#262626" stroke-width="1.3" stroke-linecap="round" stroke-linejoin="round"><path d="M0.2,-10.6 L3.6,-14 L3.4,0" transform="translate(0,0)"/><path d="M0.2,-10.6 L3.6,-14 L3.4,0" transform="translate(6.5,0)"/></g>
</svg>
</body></html>
